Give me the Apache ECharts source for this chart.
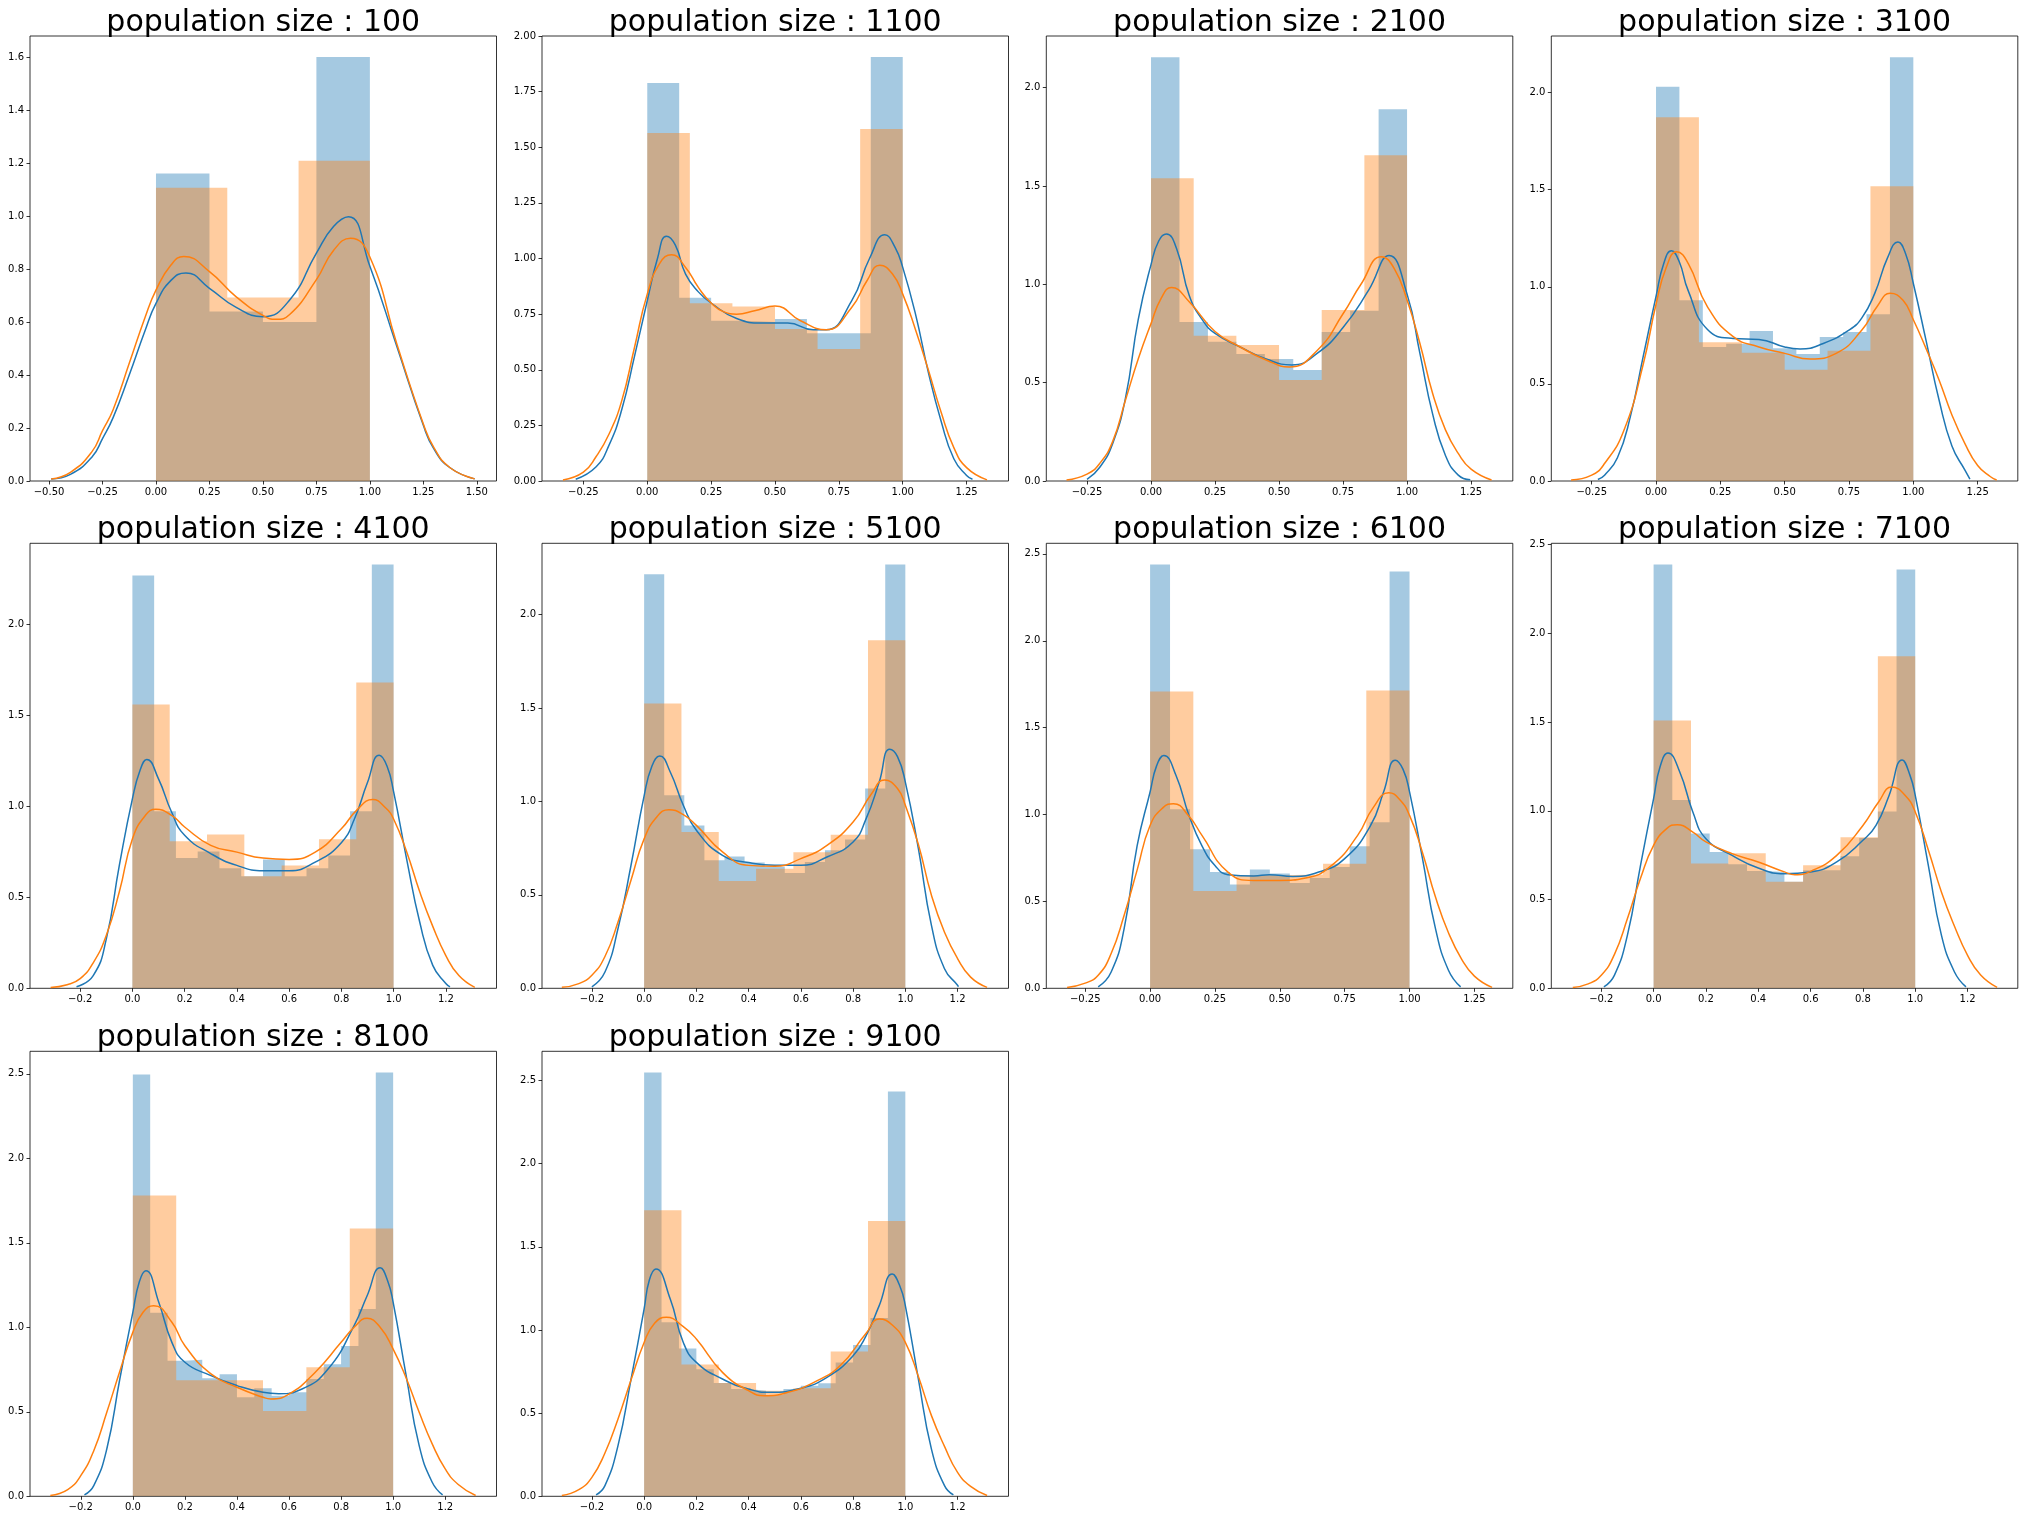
<!DOCTYPE html>
<html>
<head>
<meta charset="utf-8">
<script src="https://cdn.jsdelivr.net/npm/echarts@6/dist/echarts.min.js"></script>
<style>
html,body{margin:0;padding:0;background:#fff;}
#chart{width:2024px;height:1520px;}
</style>
</head>
<body>
<div id="chart"></div>
<script>
// ---------------- data ----------------
const populations = [100, 1100, 2100, 3100, 4100, 5100, 6100, 7100, 8100, 9100];

// histogram range of the samples
const histLo = 0.0;
const histHi = 1.0;

// blue histogram bin heights (density), bins evenly spread over [histLo, histHi]
const blueHist = [
  [1.16, 0.64, 0.60, 1.60],
  [1.789, 0.824, 0.72, 0.715, 0.728, 0.664, 0.664, 1.906],
  [2.154, 0.808, 0.708, 0.645, 0.62, 0.564, 0.757, 0.866, 1.89],
  [2.03, 0.931, 0.69, 0.707, 0.772, 0.683, 0.654, 0.741, 0.767, 0.858, 2.182],
  [2.267, 0.972, 0.715, 0.752, 0.66, 0.615, 0.708, 0.615, 0.66, 0.73, 0.972, 2.328],
  [2.216, 1.033, 0.872, 0.685, 0.706, 0.673, 0.65, 0.617, 0.676, 0.739, 0.797, 1.07, 2.269],
  [2.439, 1.03, 0.80, 0.669, 0.598, 0.684, 0.66, 0.606, 0.635, 0.698, 0.817, 0.955, 2.398],
  [2.389, 1.061, 0.873, 0.768, 0.699, 0.661, 0.656, 0.60, 0.665, 0.665, 0.744, 0.847, 0.997, 2.361],
  [2.496, 1.086, 0.802, 0.808, 0.698, 0.722, 0.586, 0.639, 0.595, 0.615, 0.694, 0.781, 0.889, 1.108, 2.508],
  [2.548, 1.046, 0.889, 0.763, 0.681, 0.645, 0.635, 0.609, 0.645, 0.665, 0.679, 0.805, 0.909, 1.072, 2.434]
];

// orange histogram bin heights (density)
const orangeHist = [
  [1.106, 0.692, 1.208],
  [1.564, 0.7985, 0.784, 0.683, 0.593, 1.582],
  [1.539, 0.738, 0.691, 0.513, 0.869, 1.656],
  [1.873, 0.714, 0.66, 0.573, 0.671, 1.518],
  [1.559, 0.807, 0.845, 0.615, 0.675, 0.818, 1.68],
  [1.525, 0.837, 0.574, 0.64, 0.728, 0.822, 1.863],
  [1.708, 0.56, 0.65, 0.655, 0.717, 1.714],
  [1.51, 0.704, 0.761, 0.60, 0.693, 0.851, 1.871],
  [1.78, 0.686, 0.686, 0.505, 0.763, 1.585],
  [1.719, 0.793, 0.681, 0.635, 0.649, 0.871, 1.655]
];

// blue KDE curves [x, density]
const blueKde = [
  [[-0.49,0.008],[-0.4,0.025],[-0.3,0.09],[-0.25,0.16],[-0.2,0.24],[-0.125,0.40],[-0.05,0.57],[0,0.67],[0.07,0.757],[0.14,0.785],[0.25,0.727],[0.375,0.655],[0.5,0.62],[0.625,0.683],[0.75,0.86],[0.83,0.96],[0.9,0.997],[1.0,0.81],[1.125,0.51],[1.25,0.21],[1.3,0.12],[1.375,0.05],[1.49,0.008]],
  [[-0.28,0.008],[-0.2,0.064],[-0.15,0.16],[-0.1,0.32],[-0.05,0.56],[0,0.81],[0.04,1.0],[0.075,1.10],[0.11,1.06],[0.15,0.93],[0.2,0.85],[0.25,0.80],[0.35,0.73],[0.45,0.71],[0.55,0.71],[0.65,0.68],[0.7,0.68],[0.8,0.81],[0.87,1.0],[0.93,1.107],[0.97,1.05],[1.0,0.96],[1.05,0.75],[1.1,0.49],[1.15,0.27],[1.2,0.10],[1.25,0.025],[1.273,0.008]],
  [[-0.25,0.008],[-0.2,0.07],[-0.15,0.19],[-0.1,0.42],[-0.05,0.82],[0,1.1],[0.03,1.22],[0.06,1.255],[0.1,1.18],[0.15,0.94],[0.2,0.82],[0.25,0.75],[0.35,0.68],[0.45,0.62],[0.55,0.59],[0.65,0.65],[0.75,0.78],[0.85,0.97],[0.93,1.146],[1.0,0.95],[1.05,0.65],[1.1,0.34],[1.15,0.13],[1.2,0.03],[1.247,0.006]],
  [[-0.226,0.008],[-0.2,0.03],[-0.15,0.12],[-0.1,0.33],[-0.05,0.64],[0,0.95],[0.03,1.12],[0.06,1.185],[0.09,1.13],[0.125,0.98],[0.2,0.78],[0.3,0.734],[0.4,0.729],[0.5,0.69],[0.56,0.68],[0.65,0.708],[0.75,0.777],[0.8,0.84],[0.85,0.966],[0.9,1.15],[0.94,1.23],[0.97,1.17],[1.0,1.017],[1.05,0.72],[1.1,0.417],[1.15,0.18],[1.2,0.057],[1.22,0.01]],
  [[-0.214,0.008],[-0.15,0.07],[-0.1,0.27],[-0.05,0.675],[0,1.04],[0.03,1.2],[0.055,1.257],[0.1,1.15],[0.15,0.968],[0.2,0.84],[0.3,0.74],[0.4,0.675],[0.5,0.646],[0.6,0.646],[0.7,0.693],[0.8,0.80],[0.85,0.93],[0.9,1.13],[0.945,1.28],[0.975,1.22],[1.0,1.08],[1.05,0.71],[1.1,0.364],[1.15,0.126],[1.2,0.026],[1.216,0.008]],
  [[-0.2,0.008],[-0.15,0.087],[-0.1,0.32],[-0.05,0.66],[0,1.03],[0.03,1.19],[0.06,1.243],[0.1,1.158],[0.15,0.98],[0.2,0.846],[0.3,0.712],[0.4,0.673],[0.5,0.658],[0.6,0.658],[0.7,0.703],[0.8,0.783],[0.85,0.908],[0.9,1.104],[0.94,1.28],[0.97,1.24],[1.0,1.104],[1.05,0.748],[1.1,0.337],[1.15,0.105],[1.2,0.016],[1.203,0.008]],
  [[-0.2,0.008],[-0.15,0.094],[-0.1,0.343],[-0.05,0.82],[0,1.13],[0.025,1.28],[0.053,1.34],[0.1,1.225],[0.15,0.995],[0.2,0.82],[0.25,0.707],[0.3,0.654],[0.4,0.646],[0.46,0.654],[0.55,0.644],[0.65,0.669],[0.75,0.746],[0.85,0.937],[0.9,1.13],[0.945,1.313],[0.975,1.26],[1.0,1.13],[1.05,0.746],[1.1,0.343],[1.15,0.104],[1.197,0.008]],
  [[-0.19,0.008],[-0.15,0.073],[-0.1,0.3],[-0.05,0.693],[0,1.069],[0.025,1.25],[0.055,1.326],[0.1,1.219],[0.15,0.994],[0.2,0.843],[0.3,0.749],[0.4,0.678],[0.5,0.646],[0.6,0.656],[0.7,0.712],[0.8,0.834],[0.85,0.918],[0.9,1.087],[0.95,1.287],[0.98,1.2],[1.0,1.087],[1.05,0.693],[1.1,0.3],[1.15,0.092],[1.194,0.008]],
  [[-0.186,0.008],[-0.15,0.063],[-0.1,0.28],[-0.05,0.694],[0,1.088],[0.025,1.27],[0.05,1.335],[0.1,1.147],[0.15,0.911],[0.2,0.793],[0.3,0.714],[0.4,0.655],[0.5,0.615],[0.56,0.607],[0.65,0.635],[0.75,0.753],[0.85,1.01],[0.9,1.187],[0.95,1.352],[0.98,1.27],[1.0,1.147],[1.05,0.714],[1.1,0.30],[1.15,0.083],[1.19,0.008]],
  [[-0.184,0.008],[-0.15,0.064],[-0.1,0.305],[-0.05,0.705],[0,1.126],[0.02,1.3],[0.045,1.366],[0.1,1.186],[0.15,0.925],[0.2,0.805],[0.3,0.705],[0.4,0.645],[0.48,0.625],[0.6,0.649],[0.7,0.715],[0.8,0.845],[0.85,0.966],[0.9,1.146],[0.95,1.336],[0.98,1.26],[1.0,1.146],[1.05,0.705],[1.1,0.284],[1.15,0.064],[1.184,0.008]]
];

// orange KDE curves [x, density]
const orangeKde = [
  [[-0.49,0.008],[-0.4,0.033],[-0.3,0.11],[-0.25,0.19],[-0.2,0.27],[-0.125,0.444],[-0.05,0.62],[0,0.72],[0.07,0.815],[0.13,0.847],[0.25,0.79],[0.375,0.695],[0.5,0.625],[0.56,0.61],[0.625,0.628],[0.75,0.76],[0.83,0.87],[0.91,0.916],[1.0,0.845],[1.125,0.52],[1.25,0.215],[1.3,0.125],[1.375,0.05],[1.49,0.008]],
  [[-0.33,0.005],[-0.25,0.04],[-0.2,0.11],[-0.15,0.21],[-0.1,0.36],[-0.05,0.6],[0,0.84],[0.05,0.98],[0.095,1.017],[0.15,0.96],[0.2,0.87],[0.25,0.8],[0.3,0.76],[0.35,0.75],[0.42,0.765],[0.5,0.786],[0.6,0.72],[0.7,0.68],[0.8,0.78],[0.86,0.9],[0.91,0.97],[0.96,0.93],[1.0,0.84],[1.05,0.68],[1.1,0.50],[1.15,0.31],[1.2,0.15],[1.25,0.06],[1.33,0.005]],
  [[-0.33,0.005],[-0.25,0.035],[-0.2,0.09],[-0.15,0.2],[-0.1,0.41],[-0.05,0.62],[0,0.80],[0.04,0.93],[0.08,0.984],[0.15,0.91],[0.25,0.76],[0.35,0.68],[0.45,0.615],[0.54,0.58],[0.65,0.665],[0.75,0.85],[0.82,1.0],[0.9,1.14],[0.95,1.08],[1.0,0.92],[1.05,0.7],[1.1,0.445],[1.15,0.26],[1.2,0.14],[1.25,0.06],[1.33,0.005]],
  [[-0.33,0.005],[-0.25,0.03],[-0.2,0.09],[-0.125,0.26],[-0.05,0.6],[0,0.91],[0.04,1.1],[0.08,1.18],[0.125,1.12],[0.2,0.897],[0.3,0.743],[0.4,0.69],[0.5,0.657],[0.6,0.628],[0.7,0.657],[0.8,0.777],[0.86,0.9],[0.91,0.966],[0.96,0.93],[1.0,0.83],[1.05,0.68],[1.1,0.52],[1.15,0.34],[1.2,0.194],[1.25,0.08],[1.3,0.022],[1.324,0.005]],
  [[-0.313,0.005],[-0.25,0.02],[-0.2,0.053],[-0.15,0.14],[-0.1,0.29],[-0.05,0.53],[0,0.82],[0.05,0.95],[0.09,0.983],[0.15,0.95],[0.2,0.886],[0.3,0.785],[0.4,0.748],[0.5,0.715],[0.6,0.708],[0.7,0.748],[0.8,0.876],[0.86,0.98],[0.92,1.037],[0.97,0.99],[1.0,0.93],[1.05,0.75],[1.1,0.53],[1.15,0.34],[1.2,0.18],[1.25,0.07],[1.311,0.005]],
  [[-0.315,0.005],[-0.25,0.025],[-0.2,0.07],[-0.15,0.17],[-0.1,0.355],[-0.05,0.58],[0,0.80],[0.05,0.92],[0.095,0.956],[0.15,0.93],[0.2,0.872],[0.3,0.73],[0.4,0.658],[0.5,0.653],[0.6,0.694],[0.7,0.765],[0.8,0.89],[0.87,1.04],[0.92,1.115],[0.97,1.07],[1.0,0.98],[1.05,0.77],[1.1,0.498],[1.15,0.3],[1.2,0.159],[1.25,0.06],[1.313,0.005]],
  [[-0.32,0.005],[-0.25,0.03],[-0.2,0.075],[-0.15,0.2],[-0.1,0.42],[-0.05,0.68],[0,0.937],[0.05,1.04],[0.09,1.062],[0.15,0.99],[0.2,0.88],[0.3,0.669],[0.4,0.621],[0.5,0.621],[0.6,0.635],[0.7,0.707],[0.8,0.88],[0.86,1.04],[0.92,1.125],[0.96,1.09],[1.0,0.995],[1.05,0.78],[1.1,0.525],[1.15,0.32],[1.2,0.17],[1.25,0.07],[1.318,0.005]],
  [[-0.309,0.005],[-0.25,0.025],[-0.2,0.073],[-0.15,0.19],[-0.1,0.393],[-0.05,0.62],[0,0.806],[0.05,0.9],[0.09,0.922],[0.15,0.88],[0.2,0.825],[0.3,0.759],[0.4,0.712],[0.5,0.656],[0.54,0.64],[0.6,0.659],[0.7,0.749],[0.8,0.918],[0.86,1.05],[0.91,1.134],[0.96,1.09],[1.0,0.994],[1.05,0.78],[1.1,0.543],[1.15,0.35],[1.2,0.186],[1.25,0.075],[1.313,0.005]],
  [[-0.317,0.005],[-0.25,0.04],[-0.2,0.122],[-0.15,0.27],[-0.1,0.497],[-0.05,0.74],[0,0.97],[0.04,1.09],[0.08,1.128],[0.15,1.03],[0.2,0.891],[0.3,0.724],[0.4,0.645],[0.5,0.586],[0.53,0.576],[0.6,0.605],[0.7,0.733],[0.8,0.911],[0.85,1.0],[0.9,1.053],[0.95,1.0],[1.0,0.871],[1.05,0.7],[1.1,0.497],[1.15,0.31],[1.2,0.162],[1.25,0.07],[1.317,0.005]],
  [[-0.315,0.005],[-0.25,0.04],[-0.2,0.114],[-0.15,0.26],[-0.1,0.465],[-0.05,0.7],[0,0.925],[0.04,1.04],[0.085,1.076],[0.15,1.02],[0.2,0.946],[0.3,0.745],[0.4,0.635],[0.46,0.605],[0.55,0.625],[0.65,0.685],[0.75,0.785],[0.85,0.98],[0.9,1.066],[0.95,1.03],[1.0,0.925],[1.05,0.72],[1.1,0.485],[1.15,0.3],[1.2,0.144],[1.25,0.06],[1.313,0.005]]
];

// axis ranges and tick steps per panel
const xMin = [-0.589, -0.412, -0.409, -0.407, -0.392, -0.391, -0.400, -0.391, -0.395, -0.391];
const xMax = [1.592, 1.414, 1.413, 1.406, 1.394, 1.395, 1.398, 1.392, 1.397, 1.395];
const xTickStep = [0.25, 0.25, 0.25, 0.25, 0.2, 0.2, 0.25, 0.2, 0.2, 0.2];
const yMax = [1.679, 2.0, 2.262, 2.291, 2.444, 2.382, 2.561, 2.508, 2.633, 2.675];
const yTickStep = [0.2, 0.25, 0.5, 0.5, 0.5, 0.5, 0.5, 0.5, 0.5, 0.5];

// ---------------- layout ----------------
const colLeft = [30, 542, 1046.3, 1551.3];
const rowTop = [36, 543.3, 1051.3];
const panelW = 466.5;
const panelH = 445;

const BLUE = '#1f77b4';
const ORANGE = '#ff7f0e';
const FONT = '"DejaVu Sans", "Liberation Sans", sans-serif';

function ticks(lo, hi, step) {
  const out = [];
  const a = Math.ceil(lo / step - 1e-9), b = Math.floor(hi / step + 1e-9);
  for (let k = a; k <= b; k++) out.push(+(k * step).toFixed(6));
  return out;
}
function decimalsFor(step) {
  return step === 0.25 ? 2 : 1;
}
function fmt(v, d) {
  const s = Math.abs(v).toFixed(d);
  return (v < -1e-12 ? '\u2212' : '') + s;
}
function histPoints(heights) {
  const n = heights.length, pts = [];
  for (let i = 0; i < n; i++) {
    const a = histLo + (histHi - histLo) * i / n;
    const b = histLo + (histHi - histLo) * (i + 1) / n;
    pts.push([a, heights[i]], [b, heights[i]]);
  }
  return pts;
}

const grids = [], xAxes = [], yAxes = [], series = [], graphics = [];
populations.forEach((pop, i) => {
  const r = Math.floor(i / 4), c = i % 4;
  const left = colLeft[c], top = rowTop[r];
  grids.push({
    left: left, top: top, width: panelW, height: panelH,
    show: true, borderColor: '#000', borderWidth: 0.8, backgroundColor: 'transparent'
  });
  const xd = decimalsFor(xTickStep[i]);
  const yd = decimalsFor(yTickStep[i]);
  const xt = ticks(xMin[i], xMax[i], xTickStep[i]);
  const yt = ticks(0, yMax[i], yTickStep[i]);
  xAxes.push({
    type: 'value', gridIndex: i, min: xMin[i], max: xMax[i], position: 'bottom',
    axisLine: { show: false, onZero: false },
    splitLine: { show: false },
    axisTick: { show: true, length: 3.5, inside: false, customValues: xt, lineStyle: { color: '#000', width: 0.8 } },
    axisLabel: { show: true, customValues: xt, margin: 6, color: '#000', fontSize: 10, fontFamily: FONT,
      formatter: v => fmt(v, xd) }
  });
  yAxes.push({
    type: 'value', gridIndex: i, min: 0, max: yMax[i], position: 'left',
    axisLine: { show: false, onZero: false },
    splitLine: { show: false },
    axisTick: { show: true, length: 3.5, inside: false, customValues: yt, lineStyle: { color: '#000', width: 0.8 } },
    axisLabel: { show: true, customValues: yt, margin: 6, color: '#000', fontSize: 10, fontFamily: FONT,
      formatter: v => fmt(v, yd) }
  });
  // blue histogram
  series.push({
    type: 'line', xAxisIndex: i, yAxisIndex: i, data: histPoints(blueHist[i]),
    showSymbol: false, symbol: 'none', smooth: false, silent: true,
    lineStyle: { width: 0, opacity: 0 },
    areaStyle: { color: BLUE, opacity: 0.4 }
  });
  // blue kde
  series.push({
    type: 'line', xAxisIndex: i, yAxisIndex: i, data: blueKde[i],
    showSymbol: false, symbol: 'none', smooth: 0.5, silent: true,
    lineStyle: { width: 1.5, color: BLUE }
  });
  // orange histogram
  series.push({
    type: 'line', xAxisIndex: i, yAxisIndex: i, data: histPoints(orangeHist[i]),
    showSymbol: false, symbol: 'none', smooth: false, silent: true,
    lineStyle: { width: 0, opacity: 0 },
    areaStyle: { color: ORANGE, opacity: 0.4 }
  });
  // orange kde
  series.push({
    type: 'line', xAxisIndex: i, yAxisIndex: i, data: orangeKde[i],
    showSymbol: false, symbol: 'none', smooth: 0.5, silent: true,
    lineStyle: { width: 1.5, color: ORANGE }
  });
  graphics.push({
    type: 'text', x: left + panelW / 2, y: top - 13,
    style: { text: 'population size : ' + pop, font: '30px ' + FONT, fill: '#000',
      align: 'center', verticalAlign: 'middle' }
  });
});

const chart = echarts.init(document.getElementById('chart'), null, { renderer: 'canvas', width: 2024, height: 1520 });
chart.setOption({
  animation: false,
  backgroundColor: '#fff',
  grid: grids,
  xAxis: xAxes,
  yAxis: yAxes,
  series: series,
  graphic: graphics
});
</script>
</body>
</html>
